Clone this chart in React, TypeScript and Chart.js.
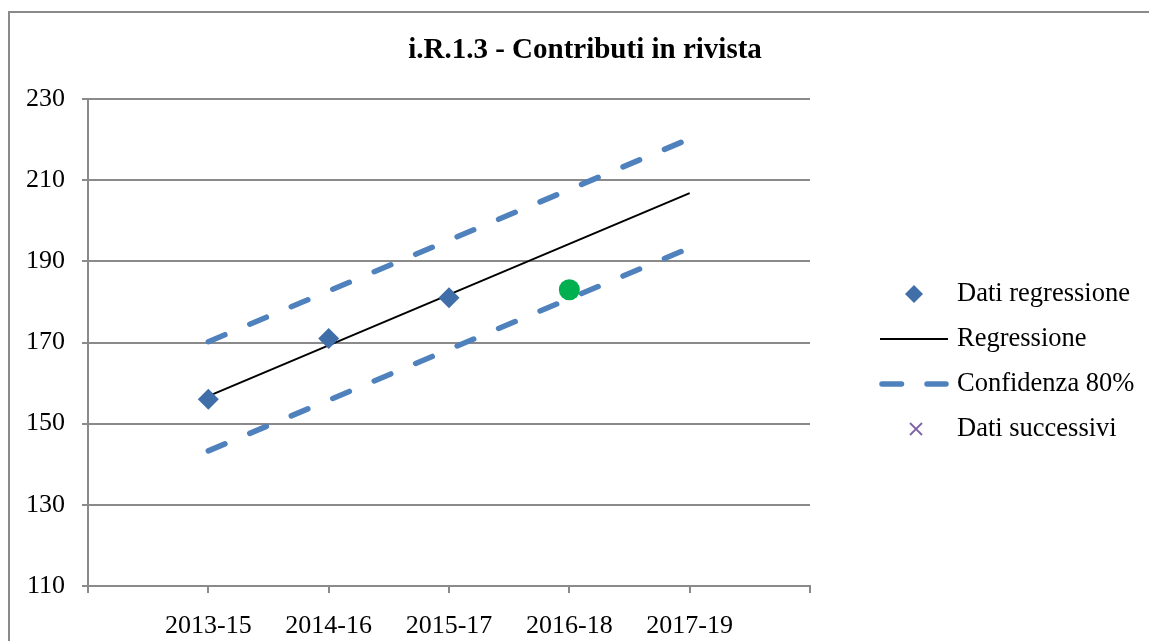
import React, { useEffect, useRef } from "react";
import { Chart, registerables } from "chart.js";

Chart.register(...registerables);

const TITLE = "i.R.1.3 - Contributi in rivista";
const CATEGORIES = ["2013-15", "2014-16", "2015-17", "2016-18", "2017-19"];
const X_POS = [1, 2, 3, 4, 5];
const DATI_REGRESSIONE: (number | null)[] = [156, 171, 181, null, null];
const REGRESSIONE = [156.8, 169.3, 181.8, 194.3, 206.8];
const CONF_UPPER = [170.2, 182.7, 195.2, 207.7, 220.2];
const CONF_LOWER = [143.3, 155.8, 168.3, 180.8, 193.3];
const ULTIMO_DATO: (number | null)[] = [null, null, null, 183, null];
const DATI_SUCCESSIVI: (number | null)[] = [null, null, null, null, null];
const Y_TICKS = [110, 130, 150, 170, 190, 210, 230];

const FONT = "'Liberation Serif', 'Times New Roman', serif";
const GRID = "#8a8a8a";
const BLUE_PT = "#3F6EA8";
const BLUE_DASH = "#4F81BD";
const DASH = [18, 27];

const toPts = (ys: (number | null)[]) =>
  X_POS.map((x, i) => ({ x, y: ys[i] })).filter((p) => p.y !== null) as { x: number; y: number }[];

const LEGEND = [
  { label: "Dati regressione", kind: "diamond" },
  { label: "Regressione", kind: "line" },
  { label: "Confidenza 80%", kind: "dash" },
  { label: "Dati successivi", kind: "cross" },
];

const titleLegendPlugin = {
  id: "titleLegend",
  afterDraw(chart: any) {
    const ctx = chart.ctx;
    const area = chart.chartArea;
    ctx.save();
    // title
    ctx.fillStyle = "#000";
    ctx.font = `bold 29px ${FONT}`;
    ctx.textAlign = "center";
    ctx.textBaseline = "middle";
    ctx.fillText(TITLE, 585, 51);

    // legend
    const lx0 = area.right + 70;
    const lx1 = area.right + 138;
    const mx = area.right + 104;
    const tx = area.right + 147;
    const y0 = area.top + 195;
    const step = 45;
    LEGEND.forEach((e, i) => {
      const y = y0 + i * step;
      if (e.kind === "diamond") {
        ctx.fillStyle = BLUE_PT;
        ctx.beginPath();
        ctx.moveTo(mx - 9, y);
        ctx.lineTo(mx, y - 9);
        ctx.lineTo(mx + 9, y);
        ctx.lineTo(mx, y + 9);
        ctx.closePath();
        ctx.fill();
      } else if (e.kind === "line") {
        ctx.strokeStyle = "#000";
        ctx.lineWidth = 2;
        ctx.beginPath();
        ctx.moveTo(lx0, y);
        ctx.lineTo(lx1, y);
        ctx.stroke();
      } else if (e.kind === "dash") {
        ctx.strokeStyle = BLUE_DASH;
        ctx.lineWidth = 5.5;
        ctx.lineCap = "round";
        ctx.setLineDash([19.5, 25.5]);
        ctx.beginPath();
        ctx.moveTo(lx0 + 2, y);
        ctx.lineTo(lx1 - 2, y);
        ctx.stroke();
        ctx.setLineDash([]);
        ctx.lineCap = "butt";
      } else {
        ctx.strokeStyle = "#7F62A8";
        ctx.lineWidth = 1.8;
        const s = 6;
        ctx.beginPath();
        ctx.moveTo(mx + 2 - s, y - s);
        ctx.lineTo(mx + 2 + s, y + s);
        ctx.moveTo(mx + 2 + s, y - s);
        ctx.lineTo(mx + 2 - s, y + s);
        ctx.stroke();
      }
      ctx.fillStyle = "#000";
      ctx.font = `26.5px ${FONT}`;
      ctx.textBaseline = "middle";
      ctx.textAlign = "left";
      ctx.fillText(e.label, tx, y);
    });
    ctx.restore();
  },
};

export default function App() {
  const ref = useRef<HTMLCanvasElement | null>(null);

  useEffect(() => {
    if (!ref.current) return;
    const chart = new Chart(ref.current, {
      type: "scatter",
      data: {
        datasets: [
          {
            label: "Ultimo dato",
            data: toPts(ULTIMO_DATO),
            pointStyle: "circle",
            pointRadius: 10.5,
            backgroundColor: "#00B050",
            borderColor: "#00B050",
            borderWidth: 0,
            showLine: false,
          },
          {
            label: "Dati successivi",
            data: toPts(DATI_SUCCESSIVI),
            pointStyle: "crossRot",
            pointRadius: 7,
            borderColor: "#7F62A8",
            showLine: false,
          },
          {
            label: "Dati regressione",
            data: toPts(DATI_REGRESSIONE),
            pointStyle: "rectRot",
            pointRadius: 10.5,
            backgroundColor: BLUE_PT,
            borderColor: BLUE_PT,
            borderWidth: 0,
            showLine: false,
          },
          {
            label: "Regressione",
            data: toPts(REGRESSIONE),
            showLine: true,
            borderColor: "#000",
            borderWidth: 2,
            pointRadius: 0,
          },
          {
            label: "Confidenza 80%",
            data: toPts(CONF_UPPER),
            showLine: true,
            borderColor: BLUE_DASH,
            borderWidth: 5.5,
            borderDash: DASH,
            borderCapStyle: "round",
            pointRadius: 0,
          },
          {
            label: "Confidenza 80% (inf.)",
            data: toPts(CONF_LOWER),
            showLine: true,
            borderColor: BLUE_DASH,
            borderWidth: 5.5,
            borderDash: DASH,
            borderCapStyle: "round",
            pointRadius: 0,
          },
        ],
      },
      options: {
        responsive: false,
        animation: false,
        events: [],
        layout: { padding: { left: 22, right: 339, top: 99, bottom: 0 } },
        plugins: {
          legend: { display: false },
          tooltip: { enabled: false },
          title: { display: false },
        },
        scales: {
          x: {
            type: "linear",
            min: 0,
            max: 6,
            afterFit: (s: any) => {
              s.height = 55;
            },
            afterBuildTicks: (s: any) => {
              s.ticks = [0, 1, 2, 3, 4, 5, 6].map((v) => ({ value: v }));
            },
            ticks: {
              autoSkip: false,
              maxRotation: 0,
              padding: 18,
              color: "#000",
              font: { family: FONT, size: 26 },
              callback: (v: any) => CATEGORIES[Number(v) - 1] ?? "",
            },
            grid: {
              drawOnChartArea: false,
              drawTicks: true,
              tickLength: 7,
              color: GRID,
              lineWidth: 2,
            },
            border: { display: true, color: GRID, width: 2 },
          },
          y: {
            min: 110,
            max: 230,
            afterFit: (s: any) => {
              s.width = 66;
            },
            afterBuildTicks: (s: any) => {
              s.ticks = Y_TICKS.map((v) => ({ value: v }));
            },
            ticks: {
              padding: 17,
              color: "#000",
              font: { family: FONT, size: 26 },
            },
            grid: {
              color: GRID,
              lineWidth: 2,
              tickLength: 6,
            },
            border: { display: true, color: GRID, width: 2 },
          },
        },
      },
      plugins: [titleLegendPlugin],
    } as any);
    return () => chart.destroy();
  }, []);

  return (
    <div
      style={{
        position: "fixed",
        left: 0,
        top: 0,
        width: 1149,
        height: 641,
        overflow: "hidden",
        background: "#fff",
      }}
    >
      <div
        style={{
          position: "absolute",
          left: 8,
          top: 11,
          width: 1400,
          height: 900,
          border: "2px solid #8a8a8a",
        }}
      />
      <canvas
        ref={ref}
        width={1149}
        height={641}
        style={{ position: "absolute", left: 0, top: 0, width: 1149, height: 641 }}
      />
    </div>
  );
}
